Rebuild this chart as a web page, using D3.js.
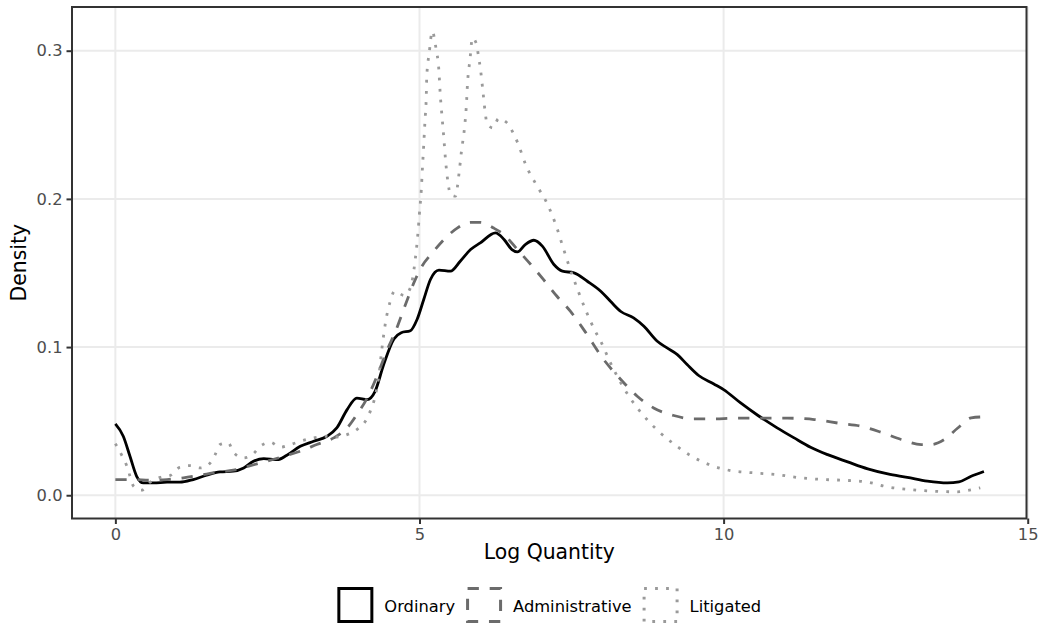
<!DOCTYPE html>
<html>
<head>
<meta charset="utf-8">
<script src="https://cdn.jsdelivr.net/npm/d3@7"></script>
<style>
body { margin: 0; background: #fff; }
text { font-family: "DejaVu Sans", sans-serif; }
</style>
</head>
<body>
<div id="chart"></div>
<script>
// Density estimates (x = log quantity, y = density)
var ordinaryX = [0, 0.13, 0.24, 0.35, 0.46, 0.63, 0.85, 1.06, 1.28, 1.50, 1.72, 1.94, 2.11, 2.27, 2.44, 2.66, 2.82, 3.04, 3.26, 3.48, 3.64, 3.81, 3.97, 4.14, 4.27, 4.41, 4.58, 4.70, 4.85, 4.96, 5.07, 5.18, 5.32, 5.51, 5.67, 5.84, 6.00, 6.25, 6.39, 6.52, 6.61, 6.74, 6.88, 7.02, 7.21, 7.35, 7.54, 7.76, 7.98, 8.14, 8.31, 8.52, 8.69, 8.91, 9.07, 9.24, 9.40, 9.59, 9.84, 10.0, 10.28, 10.56, 10.88, 11.16, 11.43, 11.71, 12.04, 12.37, 12.70, 13.02, 13.35, 13.68, 13.87, 14.07, 14.28];
var ordinaryY = [0.0481, 0.0398, 0.0263, 0.0128, 0.0083, 0.0083, 0.0088, 0.0088, 0.0106, 0.0135, 0.0157, 0.0162, 0.0184, 0.0229, 0.0247, 0.0240, 0.0270, 0.0330, 0.0364, 0.0398, 0.0454, 0.0578, 0.0656, 0.0645, 0.0701, 0.0881, 0.1055, 0.1097, 0.1110, 0.1186, 0.1321, 0.1456, 0.1519, 0.1512, 0.1579, 0.1658, 0.1703, 0.1771, 0.1726, 0.1658, 0.1642, 0.1692, 0.1721, 0.1681, 0.1557, 0.1512, 0.1501, 0.1444, 0.1377, 0.1309, 0.1240, 0.1197, 0.1140, 0.1039, 0.0994, 0.0949, 0.0882, 0.0808, 0.0751, 0.0713, 0.0623, 0.0540, 0.0455, 0.0387, 0.0324, 0.0274, 0.0225, 0.0178, 0.0144, 0.0121, 0.0095, 0.0083, 0.0090, 0.0128, 0.0160];

var adminX = [0, 0.30, 0.57, 0.85, 1.12, 1.39, 1.67, 1.94, 2.22, 2.49, 2.77, 3.04, 3.31, 3.59, 3.81, 3.97, 4.14, 4.30, 4.47, 4.60, 4.77, 4.93, 5.04, 5.21, 5.40, 5.62, 5.84, 6.00, 6.22, 6.39, 6.61, 6.83, 7.04, 7.26, 7.48, 7.70, 8.03, 8.31, 8.58, 8.85, 9.18, 9.51, 9.84, 10.17, 10.61, 11.05, 11.49, 11.93, 12.26, 12.59, 12.92, 13.25, 13.41, 13.63, 13.85, 14.07, 14.28];
var adminY = [0.0106, 0.0106, 0.0101, 0.0106, 0.0117, 0.0135, 0.0155, 0.0169, 0.0200, 0.0229, 0.0263, 0.0297, 0.0342, 0.0387, 0.0454, 0.0544, 0.0656, 0.0802, 0.0982, 0.1100, 0.1287, 0.1455, 0.1545, 0.1635, 0.1725, 0.1803, 0.1842, 0.1842, 0.1803, 0.1758, 0.1658, 0.1557, 0.1455, 0.1343, 0.1242, 0.1118, 0.0915, 0.0781, 0.0668, 0.0589, 0.0538, 0.0515, 0.0515, 0.0520, 0.0520, 0.0520, 0.0511, 0.0484, 0.0466, 0.0425, 0.0376, 0.0342, 0.0342, 0.0376, 0.0454, 0.0522, 0.0529];

var litigatedX = [0, 0.10, 0.19, 0.30, 0.43, 0.57, 0.74, 0.90, 1.06, 1.23, 1.39, 1.56, 1.64, 1.72, 1.86, 1.94, 2.11, 2.27, 2.38, 2.55, 2.71, 2.88, 3.04, 3.26, 3.48, 3.64, 3.81, 3.97, 4.11, 4.19, 4.25, 4.33, 4.38, 4.44, 4.52, 4.59, 4.75, 4.85, 4.93, 4.97, 5.00, 5.03, 5.05, 5.07, 5.09, 5.11, 5.12, 5.16, 5.21, 5.27, 5.32, 5.34, 5.37, 5.40, 5.43, 5.47, 5.51, 5.59, 5.65, 5.69, 5.74, 5.77, 5.79, 5.83, 5.87, 5.94, 5.97, 6.00, 6.04, 6.08, 6.11, 6.21, 6.30, 6.44, 6.54, 6.62, 6.75, 6.92, 7.10, 7.25, 7.36, 7.47, 7.60, 7.74, 7.89, 7.98, 8.14, 8.31, 8.50, 8.74, 8.96, 9.16, 9.43, 9.76, 10.12, 10.50, 10.88, 11.27, 11.65, 11.98, 12.37, 12.70, 13.08, 13.46, 13.84, 14.04, 14.22];
var litigatedY = [0.0348, 0.0274, 0.0196, 0.0061, 0.0034, 0.0088, 0.0121, 0.0133, 0.0189, 0.0200, 0.0184, 0.0218, 0.0274, 0.0342, 0.0353, 0.0290, 0.0252, 0.0281, 0.0330, 0.0357, 0.0324, 0.0342, 0.0364, 0.0387, 0.0398, 0.0393, 0.0409, 0.0443, 0.0499, 0.0566, 0.0634, 0.0802, 0.0982, 0.1162, 0.1310, 0.1377, 0.1348, 0.1400, 0.1590, 0.1748, 0.1905, 0.2063, 0.2220, 0.2366, 0.2524, 0.2670, 0.2827, 0.2985, 0.3131, 0.3019, 0.2861, 0.2715, 0.2558, 0.2412, 0.2254, 0.2108, 0.2029, 0.2018, 0.2171, 0.2321, 0.2479, 0.2625, 0.2782, 0.2940, 0.3086, 0.3041, 0.2962, 0.2884, 0.2738, 0.2585, 0.2508, 0.2479, 0.2542, 0.2513, 0.2445, 0.2373, 0.2227, 0.2096, 0.1968, 0.1815, 0.1673, 0.1534, 0.1388, 0.1242, 0.1107, 0.1039, 0.0893, 0.0758, 0.0634, 0.0511, 0.0421, 0.0353, 0.0274, 0.0207, 0.0166, 0.0151, 0.0139, 0.0117, 0.0106, 0.0101, 0.0088, 0.0056, 0.0038, 0.0027, 0.0023, 0.0034, 0.0050];

var seriesNames = ["Ordinary", "Administrative", "Litigated"];
var xTicks = [0, 5, 10, 15];
var yTicks = [0, 0.1, 0.2, 0.3];

// Line look for each group (greys + linetypes)
var lineStyle = {
    "Ordinary":       { color: "#000000", dash: null },
    "Administrative": { color: "#6b6b6b", dash: "11.3 10.8" },
    "Litigated":      { color: "#9a9a9a", dash: "2.8 8.2" }
};

var series = [
    { name: "Ordinary", values: ordinaryX.map((d, i) => ({ x: d, y: ordinaryY[i] })) },
    { name: "Administrative", values: adminX.map((d, i) => ({ x: d, y: adminY[i] })) },
    { name: "Litigated", values: litigatedX.map((d, i) => ({ x: d, y: litigatedY[i] })) }
];

var margin = { top: 7, right: 12.5, bottom: 105.5, left: 72 },
    width = 1039 - margin.left - margin.right,
    height = 624 - margin.top - margin.bottom;

var x = d3.scaleLinear().domain([-0.713, 14.98]).range([0, width]);
var y = d3.scaleLinear().domain([-0.0157, 0.3295]).range([height, 0]);

var svg = d3.select("#chart")
    .append("svg")
        .attr("width", 1039)
        .attr("height", 624)
    .append("g")
        .attr("transform", "translate(" + margin.left + "," + margin.top + ")");

// Major grid lines only
svg.append("g")
    .selectAll("line.gx")
    .data(xTicks)
    .enter().append("line")
        .attr("x1", d => x(d)).attr("x2", d => x(d))
        .attr("y1", 0).attr("y2", height)
        .style("stroke", "#ebebeb").style("stroke-width", 2);

svg.append("g")
    .selectAll("line.gy")
    .data(yTicks)
    .enter().append("line")
        .attr("x1", 0).attr("x2", width)
        .attr("y1", d => y(d)).attr("y2", d => y(d))
        .style("stroke", "#ebebeb").style("stroke-width", 2);

// Density lines
var valueline = d3.line()
    .x(function(d) { return x(d.x); })
    .y(function(d) { return y(d.y); })
    .curve(d3.curveMonotoneX);

series.forEach(function(s) {
    svg.append("path")
        .datum(s.values)
        .attr("d", valueline)
        .style("fill", "none")
        .style("stroke", lineStyle[s.name].color)
        .style("stroke-width", 2.8)
        .style("stroke-dasharray", lineStyle[s.name].dash);
});

// Panel border
svg.append("rect")
    .attr("width", width).attr("height", height)
    .style("fill", "none").style("stroke", "#333333").style("stroke-width", 2);

// Axes
var xAxis = svg.append("g")
    .attr("transform", "translate(0," + height + ")")
    .call(d3.axisBottom(x).tickValues(xTicks).tickFormat(d3.format("d")).tickSize(5.5).tickPadding(4));

var yAxis = svg.append("g")
    .call(d3.axisLeft(y).tickValues(yTicks).tickFormat(d3.format(".1f")).tickSize(5.5).tickPadding(4));

[xAxis, yAxis].forEach(function(a) {
    a.select(".domain").remove();
    a.selectAll(".tick line").style("stroke", "#333333").style("stroke-width", 2);
    a.selectAll(".tick text")
        .style("fill", "#4d4d4d")
        .style("font-size", "16.3px")
        .style("font-family", "DejaVu Sans");
});
xAxis.selectAll(".tick text").attr("dy", null).attr("y", 21);

// Axis titles
svg.append("text")
    .attr("x", width / 2)
    .attr("y", 559 - margin.top)
    .style("text-anchor", "middle")
    .style("font-size", "20.4px")
    .text("Log Quantity");

svg.append("text")
    .attr("transform", "translate(" + (25.5 - margin.left) + "," + (height / 2) + ") rotate(-90)")
    .style("text-anchor", "middle")
    .style("font-size", "20.4px")
    .text("Density");

// Legend below the x axis title, centred on the panel
var keySize = 36, keyGap = 11, itemGap = 11, keyStroke = 3;
var legend = svg.append("g").attr("class", "legend");
var cursor = 0;

seriesNames.forEach(function(name) {
    var st = lineStyle[name];
    legend.append("rect")
        .attr("x", cursor + keyStroke / 2).attr("y", keyStroke / 2)
        .attr("width", keySize - keyStroke).attr("height", keySize - keyStroke)
        .style("fill", "none")
        .style("stroke", st.color)
        .style("stroke-width", keyStroke)
        .style("stroke-dasharray", st.dash);
    var label = legend.append("text")
        .attr("x", cursor + keySize + keyGap)
        .attr("y", keySize / 2 + 6.5)
        .style("font-size", "16.3px")
        .style("fill", "#000")
        .text(name);
    cursor += keySize + keyGap + label.node().getComputedTextLength() + itemGap;
});
var legendWidth = cursor - itemGap;
legend.attr("transform", "translate(" + (width / 2 - legendWidth / 2) + "," + (587 - margin.top) + ")");
</script>
</body>
</html>
